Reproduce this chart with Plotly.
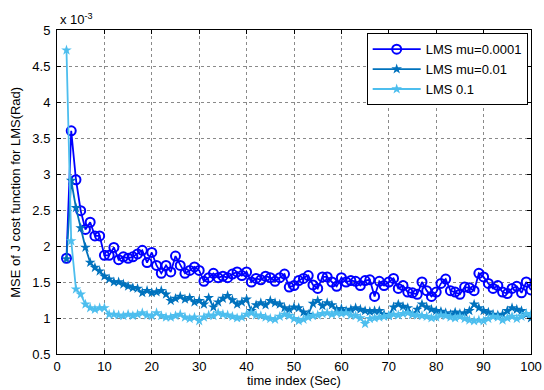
import plotly.graph_objects as go

# time index
t_mu0001 = list(range(2, 101))
t_mu001 = list(range(2, 101))
t_mu01 = list(range(2, 101))

# MSE values in units of 1e-3
mse_mu0001 = [
    1.83, 3.60, 2.92, 2.49, 2.23, 2.33, 2.14, 2.14, 1.87, 1.87,
    1.98, 1.81, 1.85, 1.83, 1.85, 1.89, 1.94, 1.77, 1.91, 1.73,
    1.62, 1.73, 1.64, 1.86, 1.73, 1.62, 1.66, 1.71, 1.66, 1.51,
    1.56, 1.62, 1.56, 1.58, 1.56, 1.61, 1.64, 1.59, 1.64, 1.50,
    1.55, 1.53, 1.58, 1.56, 1.51, 1.56, 1.61, 1.43,
    1.45, 1.52, 1.55, 1.59, 1.46, 1.41, 1.57, 1.57, 1.50, 1.44,
    1.56, 1.50, 1.52, 1.51, 1.45, 1.52, 1.53, 1.30, 1.51, 1.45,
    1.50, 1.55, 1.41, 1.45, 1.36, 1.35, 1.33, 1.50, 1.38, 1.30,
    1.36, 1.48, 1.54, 1.38, 1.36, 1.33, 1.43, 1.42, 1.38, 1.62,
    1.57, 1.48, 1.41, 1.45, 1.36, 1.34, 1.41, 1.44, 1.35, 1.50,
    1.39,
]

mse_mu001 = [
    1.82, 2.91, 2.53, 2.25, 1.98, 1.77, 1.70, 1.65, 1.58, 1.54,
    1.50, 1.50, 1.47, 1.44, 1.42, 1.41, 1.35, 1.38, 1.35, 1.36,
    1.38, 1.33, 1.24, 1.27, 1.30, 1.26, 1.28, 1.22, 1.24, 1.19,
    1.28, 1.15,
    1.22, 1.27, 1.31, 1.25, 1.19, 1.22, 1.26, 1.10, 1.18, 1.21,
    1.18, 1.24, 1.21, 1.19, 1.14, 1.12, 1.15, 1.14, 1.08, 1.05,
    1.20, 1.24, 1.17, 1.21, 1.18, 1.12, 1.13, 1.10, 1.12, 1.14,
    1.12, 1.10, 1.09,
    1.10, 1.10, 1.05, 1.03, 1.15, 1.19, 1.16, 1.14, 1.05, 1.12,
    1.19, 1.15, 1.12, 1.10, 1.09, 1.07, 1.05, 1.08, 1.06, 1.07,
    1.10, 1.19, 1.14, 1.10, 1.08, 1.05, 1.04, 1.05, 1.10, 1.14,
    1.12, 1.10, 1.05, 1.00,
]

mse_mu01 = [
    4.72, 2.07, 1.40, 1.33, 1.19, 1.14, 1.12, 1.14, 1.14, 1.05,
    1.05, 1.04, 1.03, 1.05, 1.03, 1.05, 1.07, 1.04, 1.03, 1.07,
    1.03, 1.01, 1.01, 1.03, 1.05, 1.01, 0.99, 1.01, 0.96, 1.01,
    1.04, 1.03,
    1.07, 1.05, 1.04, 1.02, 1.00, 1.01, 1.05, 1.07, 1.04, 1.03,
    1.01, 0.99, 0.98, 1.02, 1.05, 1.03, 0.99, 0.96, 0.98, 1.01,
    1.03, 1.04, 1.06, 1.07, 1.05, 1.07, 1.06, 1.07, 1.04, 1.03,
    1.00, 0.92, 0.99,
    1.00, 1.01, 1.02, 1.03, 1.05, 1.04, 1.06, 1.07, 1.05, 1.04,
    1.03, 1.02, 1.00, 1.01, 1.04, 1.03, 1.01, 1.00, 1.02, 0.99,
    0.97, 0.96, 0.97, 0.96, 0.99, 1.02, 1.01, 0.97, 1.00, 1.02,
    0.99, 1.02, 1.06, 1.05,
]

x_ticks = [0, 10, 20, 30, 40, 50, 60, 70, 80, 90, 100]
y_ticks = [0.5, 1, 1.5, 2, 2.5, 3, 3.5, 4, 4.5, 5]
y_tick_text = ["0.5", "1", "1.5", "2", "2.5", "3", "3.5", "4", "4.5", "5"]

FONT = "Liberation Sans, Arial, sans-serif"

fig = go.Figure()
fig.add_trace(go.Scatter(
    x=t_mu0001, y=mse_mu0001, mode="lines+markers", name="LMS mu=0.0001",
    line=dict(color="#0000FF", width=1.8),
    marker=dict(symbol="circle-open", size=9, color="#0000FF", line=dict(width=2)),
))
fig.add_trace(go.Scatter(
    x=t_mu001, y=mse_mu001, mode="lines+markers", name="LMS mu=0.01",
    line=dict(color="#0072BD", width=1.8),
    marker=dict(symbol="star", size=8, color="#0072BD"),
))
fig.add_trace(go.Scatter(
    x=t_mu01, y=mse_mu01, mode="lines+markers", name="LMS 0.1",
    line=dict(color="#4DBEEE", width=1.8),
    marker=dict(symbol="star", size=8, color="#4DBEEE"),
))

axis_common = dict(
    showline=True, linecolor="black", linewidth=1, mirror="ticks",
    ticks="inside", ticklen=4, tickcolor="black",
    showgrid=True, gridcolor="#8a8a8a", griddash="dot", gridwidth=1,
    zeroline=False, tickfont=dict(family=FONT, size=13, color="black"),
    automargin=False,
)

fig.update_xaxes(range=[0, 100], tickvals=x_ticks, ticklabelstandoff=0, **axis_common)
fig.update_yaxes(range=[0.5, 5], tickvals=y_ticks, ticktext=y_tick_text, ticklabelstandoff=3, **axis_common)

# axis titles and exponent label
fig.add_annotation(xref="paper", yref="paper", x=0.5, y=-0.083, xanchor="center", yanchor="middle",
                   text="time index (Sec)", showarrow=False,
                   font=dict(family=FONT, size=13, color="black"))
fig.add_annotation(xref="paper", yref="paper", x=-0.089, y=0.5, xanchor="center", yanchor="middle",
                   text="MSE of J cost function for LMS(Rad)", showarrow=False, textangle=-90,
                   font=dict(family=FONT, size=13, color="black"))
fig.add_annotation(xref="paper", yref="paper", x=0, y=1, xanchor="left", yanchor="bottom",
                   text="x 10<sup>-3</sup>", showarrow=False, yshift=1, xshift=1,
                   font=dict(family=FONT, size=13, color="black"))

fig.update_layout(
    width=544, height=390,
    margin=dict(l=57, r=13, t=30, b=36, autoexpand=False),
    paper_bgcolor="white", plot_bgcolor="white",
    legend=dict(x=0.993, y=0.99, xanchor="right", yanchor="top",
                bgcolor="white", bordercolor="black", borderwidth=1,
                font=dict(family=FONT, size=13, color="black"),
                tracegroupgap=0, itemwidth=48),
    showlegend=True,
)

fig.write_html("out.html")
